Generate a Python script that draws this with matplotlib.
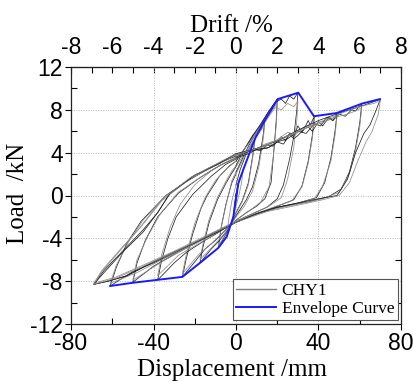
import matplotlib
matplotlib.use("Agg")
import matplotlib.pyplot as plt
from matplotlib.ticker import MultipleLocator

plt.rcParams['axes.unicode_minus'] = False

# ---------------- data (displacement mm, load kN) ----------------
c01_d = [0, 0.6, 1.1, 0.7, 0.2, -0.5, -1.3, -0.8, 0]
c01_f = [0, 0.6, 1.1, 0.4, -0.2, -1.0, -2.0, -0.9, 0.2]

c02_d = [0, 1.5, 3.5, 2.8, 1.5, 0, -2, -4.5, -3.6, -2, 0]
c02_f = [0.2, 1.5, 2.4, 1.3, 0.1, -1.0, -2.4, -3.85, -2.3, -0.5, 1.0]

c03_d = [0, 2, 5, 9.2, 8, 6, 3, 0, -3, -6, -8.6, -7.2, -5, -2, 0]
c03_f = [1.0, 2.4, 3.9, 5.3, 3.6, 1.2, -0.5, -1.6, -2.9, -4.0, -4.9, -3.0, -0.9, 1.2, 2.0]

c03b_d = [0, 3, 6, 9.2, 8, 6, 3, 0, -3, -6, -8.6, -7, -4.5, -2, 0]
c03b_f = [2.0, 3.2, 4.3, 5.1, 3.4, 1.0, -0.6, -1.7, -2.9, -3.9, -4.7, -2.8, -0.6, 1.4, 2.2]

c04_d = [0, 3, 6, 10, 14, 13, 11, 8, 5, 2, 0, -4, -8, -12, -17.5, -16, -13, -9, -5, -2, 0]
c04_f = [2.2, 3.4, 4.6, 5.9, 7.05, 5.4, 3.0, 0.8, -0.4, -1.3, -1.9, -3.2, -4.2, -5.0, -6.3, -4.8, -2.5, -0.4, 1.1, 2.1, 2.7]

c04b_d = [0, 4, 8, 11, 14, 13, 11, 8, 4, 0, -5, -10, -14, -17.5, -16, -13, -9, -5, -2, 0]
c04b_f = [2.7, 3.9, 5.0, 5.8, 6.6, 5.0, 2.6, 0.4, -1.0, -2.0, -3.4, -4.5, -5.3, -6.0, -4.5, -2.2, -0.2, 1.3, 2.3, 2.8]

c05_d = [0, 4, 8, 12, 16, 20, 19.5, 18.5, 17, 14, 10, 5, 0, -5, -10, -15, -20, -26, -24, -21, -17, -14, -8, -3, 0]
c05_f = [2.8, 4.3, 5.6, 6.6, 7.9, 9.0, 7.0, 4.5, 1.2, -0.3, -1.0, -1.6, -2.3, -3.2, -4.2, -5.0, -6.2, -7.6, -5.8, -3.6, -1.2, 0.0, 1.8, 2.8, 3.2]

c05b_d = [0, 5, 10, 15, 20, 19.5, 18, 16, 12, 6, 0, -6, -12, -18, -26, -24, -20, -15, -10, -4, 0]
c05b_f = [3.2, 4.6, 5.9, 7.3, 8.6, 6.5, 3.5, 0.8, -0.6, -1.5, -2.3, -3.4, -4.5, -5.5, -7.3, -5.4, -2.6, -0.2, 1.4, 2.6, 3.2]

c06_d = [0, 5, 10, 15, 19, 22, 24, 26, 28, 30, 29.5, 28, 26, 23, 20, 15, 8, 0, -8, -16, -24, -30, -38, -36, -33, -29, -21, -12, -5, 0]
c06_f = [3.2, 4.6, 6.1, 7.6, 8.7, 9.0, 8.6, 9.3, 9.0, 9.6, 8.0, 5.5, 3.4, 1.0, -0.3, -1.1, -1.7, -2.4, -3.4, -4.3, -5.3, -6.3, -7.9, -6.0, -4.0, -2.0, 0.1, 1.8, 2.9, 3.4]

c06b_d = [0, 6, 12, 16, 19, 22, 25, 28, 30, 29.5, 28, 25, 22, 16, 8, 0, -10, -20, -28, -38, -36, -32, -27, -20, -12, -5, 0]
c06b_f = [3.4, 4.8, 6.2, 7.4, 8.2, 8.0, 8.6, 8.3, 8.8, 7.0, 4.5, 1.5, -0.2, -1.0, -1.7, -2.4, -3.6, -4.7, -5.6, -7.5, -5.5, -3.0, -0.8, 1.0, 2.3, 3.1, 3.6]

c07_d = [0, 4, 8, 12, 15, 18, 22, 24, 26, 28, 30, 32, 33, 35, 36, 38, 37, 35, 32, 28, 20, 10, 0, -10, -20, -30, -40, -50, -48, -44, -38, -28, -18, -8, 0]
c07_f = [3.6, 3.9, 4.3, 4.2, 4.7, 4.6, 5.5, 5.1, 5.8, 5.5, 6.5, 5.9, 6.2, 7.0, 6.6, 7.4, 5.6, 3.2, 0.9, -0.4, -1.0, -1.7, -2.5, -3.5, -4.5, -5.5, -6.6, -8.1, -6.3, -4.2, -2.0, 0.2, 1.6, 2.8, 3.5]

c07b_d = [0, 8, 14, 20, 25, 29, 33, 36, 38, 37, 35, 32, 27, 18, 8, 0, -12, -24, -36, -50, -48, -43, -37, -28, -18, -8, 0]
c07b_f = [3.5, 4.1, 4.8, 5.2, 5.9, 5.7, 6.4, 6.6, 7.1, 5.3, 3.0, 0.8, -0.5, -1.1, -1.8, -2.4, -3.7, -4.9, -6.2, -7.9, -6.0, -3.9, -1.8, 0.3, 1.6, 2.8, 3.5]

c08_d = [0, 6, 10, 15, 20, 23, 26, 28, 30, 33, 35, 37, 40, 42, 45, 47, 49, 48, 46, 43, 39, 30, 20, 10, 0, -10, -20, -30, -40, -50, -61, -58, -53, -46, -34, -25, -15, -6, 0]
c08_f = [3.5, 3.9, 4.3, 4.4, 5.0, 4.8, 5.7, 5.3, 5.6, 6.2, 6.4, 6.0, 6.9, 6.5, 7.3, 7.0, 7.7, 6.0, 3.5, 1.2, -0.2, -0.7, -1.1, -1.7, -2.5, -3.4, -4.4, -5.4, -6.3, -7.1, -8.45, -6.7, -4.5, -2.4, 0.0, 1.2, 2.3, 3.2, 3.7]

c08b_d = [0, 10, 18, 25, 31, 36, 40, 44, 49, 48, 46, 42, 38, 28, 18, 8, 0, -12, -24, -36, -48, -61, -58, -52, -45, -34, -24, -14, -6, 0]
c08b_f = [3.7, 4.4, 4.8, 5.6, 6.1, 6.5, 6.8, 7.0, 7.4, 5.6, 3.2, 0.9, -0.3, -0.8, -1.3, -1.9, -2.5, -3.7, -4.9, -6.0, -7.2, -8.2, -6.5, -4.3, -2.3, 0.0, 1.3, 2.5, 3.3, 3.8]

c09_d = [0, 10, 16, 20, 25, 30, 34, 38, 41, 44, 47, 50, 53, 56, 58, 61, 60, 58, 55, 51, 45, 35, 20, 10, 0, -10, -20, -30, -40, -53, -62, -69, -64, -53, -45, -38, -32, -20, -8, 0]
c09_f = [3.8, 4.3, 4.5, 5.0, 5.3, 6.0, 5.8, 6.7, 6.5, 7.3, 7.0, 7.6, 7.4, 8.0, 7.9, 8.6, 6.8, 4.5, 2.2, 0.6, -0.1, -0.6, -1.1, -1.7, -2.5, -3.5, -4.4, -5.3, -6.2, -7.5, -8.0, -8.3, -7.0, -4.8, -3.2, -1.6, 0.2, 1.9, 3.0, 3.9]

c09b_d = [0, 12, 24, 34, 42, 48, 54, 58, 61, 60, 58, 55, 50, 42, 30, 15, 0, -15, -30, -45, -58, -69, -65, -56, -46, -36, -22, -10, 0]
c09b_f = [3.9, 4.5, 5.4, 6.3, 6.8, 7.3, 7.6, 7.9, 8.2, 6.4, 4.2, 2.0, 0.3, -0.3, -0.8, -1.4, -2.4, -3.8, -5.2, -6.5, -7.6, -8.2, -7.0, -5.0, -2.9, -0.5, 1.6, 2.8, 3.8]

c10_d = [0, 10, 20, 30, 40, 50, 60, 66, 70, 68, 65, 62, 58, 54, 49, 40, 30, 20, 10, 0, -10, -20, -30, -40, -53, -62, -69, -64, -55, -45, -38, -32, -20, -8, 0]
c10_f = [3.9, 4.4, 5.1, 6.1, 7.0, 7.7, 8.3, 8.7, 9.0, 8.0, 6.6, 5.8, 4.0, 1.5, 0.0, -0.3, -0.7, -1.1, -1.7, -2.5, -3.5, -4.4, -5.3, -6.2, -7.5, -8.0, -8.3, -7.2, -5.3, -3.4, -1.6, 0.2, 1.9, 3.0, 3.9]

c10b_d = [0, 12, 24, 36, 46, 54, 62, 67, 70, 69, 66, 63, 59, 55, 50, 42, 30, 15, 0, -15, -30, -45, -58, -69, -65, -56, -47, -36, -22, -10, 0]
c10b_f = [3.8, 4.5, 5.5, 6.5, 7.3, 7.9, 8.4, 8.6, 8.9, 7.6, 6.0, 5.0, 3.2, 1.2, 0.0, -0.4, -0.9, -1.5, -2.5, -3.9, -5.3, -6.6, -7.7, -8.3, -7.1, -5.1, -3.1, -0.4, 1.7, 2.9, 3.9]

env_d = [-61, -50, -26, -17.5, -8.6, -4.5, -1.3, 1.1, 3.5, 9.2, 14.1, 20.2, 30.2, 37.8, 48.8, 61.4, 69.8]
env_f = [-8.45, -8.15, -7.6, -6.3, -4.9, -3.85, -2.0, 1.1, 2.4, 5.3, 7.05, 9.0, 9.6, 7.4, 7.7, 8.6, 9.0]

x_ticks = [-80, -40, 0, 40, 80]
y_ticks = [-12, -8, -4, 0, 4, 8, 12]
drift_ticks = [-8, -6, -4, -2, 0, 2, 4, 6, 8]

cycles = [(c01_d, c01_f), (c02_d, c02_f), (c03_d, c03_f), (c03b_d, c03b_f),
          (c04_d, c04_f), (c04b_d, c04b_f), (c05_d, c05_f), (c05b_d, c05b_f),
          (c06_d, c06_f), (c06b_d, c06b_f), (c07_d, c07_f), (c07b_d, c07b_f),
          (c08_d, c08_f), (c08b_d, c08b_f), (c09_d, c09_f), (c09b_d, c09b_f),
          (c10_d, c10_f), (c10b_d, c10b_f)]

# ---------------- figure ----------------
W, H = 414, 386
fig = plt.figure(figsize=(W / 100, H / 100), dpi=100)
ax = fig.add_axes([71 / W, 1 - 324 / H, 330 / W, 257 / H])

tick_font = dict(family=['Liberation Sans', 'DejaVu Sans'], size=16.5)
serif = ['Liberation Serif', 'DejaVu Serif']

shades = ['#202020', '#8c8c8c']
for i, (d, f) in enumerate(cycles):
    ax.plot(d, f, color=shades[i % 2], lw=0.55, zorder=2)

ax.plot([], [], color='#808080', lw=1.0, label='CHY1')
ax.plot(env_d, env_f, color='#1a1aff', lw=1.4, zorder=3, label='Envelope Curve')

ax.set_xlim(-80, 80)
ax.set_ylim(-12, 12)
ax.set_xticks(x_ticks)
ax.set_yticks(y_ticks)
ax.xaxis.set_minor_locator(MultipleLocator(20))
ax.yaxis.set_minor_locator(MultipleLocator(2))
ax.set_xticklabels([str(v) for v in x_ticks], **tick_font)
ax.set_yticklabels([str(v) for v in y_ticks], **tick_font)

ax.tick_params(axis='both', which='major', direction='out', length=4, width=0.8, pad=2, colors='black')
ax.tick_params(axis='both', which='minor', direction='in', length=4, width=0.8)
ax.tick_params(axis='x', which='both', top=False)
ax.tick_params(axis='y', which='major', right=False)
ax.tick_params(axis='y', which='minor', right=True, left=True)

ax.grid(which='major', linestyle=(0, (1, 1.5)), color='#b5b5b5', lw=0.7, zorder=0)
for s in ax.spines.values():
    s.set_linewidth(0.9)
    s.set_color('#222222')

sec = ax.secondary_xaxis('top', functions=(lambda x: x / 10.0, lambda x: x * 10.0))
sec.set_xticks(drift_ticks)
sec.set_xticklabels([str(v) for v in drift_ticks], **tick_font)
sec.xaxis.set_minor_locator(MultipleLocator(1))
sec.tick_params(axis='x', which='both', direction='in', length=4, width=0.8, pad=6)

leg = ax.legend(loc='lower right', bbox_to_anchor=(0.99, 0.015), borderaxespad=0,
                prop=dict(family=serif, size=12.5), handlelength=2.3, handletextpad=0.3,
                borderpad=0.2, labelspacing=0.1, fancybox=False, framealpha=1)
leg.get_frame().set_edgecolor('#555555')
leg.get_frame().set_linewidth(0.8)

fig.text(232 / W, 1 - 376 / H, 'Displacement /mm', family=serif, size=18,
         ha='center', va='baseline')
fig.text(231 / W, 1 - 31.7 / H, 'Drift /%', family=serif, size=18,
         ha='center', va='baseline')
fig.text(18 / W, 1 - 193 / H, 'Load  /kN', family=serif, size=18,
         ha='center', va='center', rotation=90)

fig.savefig('out.png', dpi=100, facecolor='white')
